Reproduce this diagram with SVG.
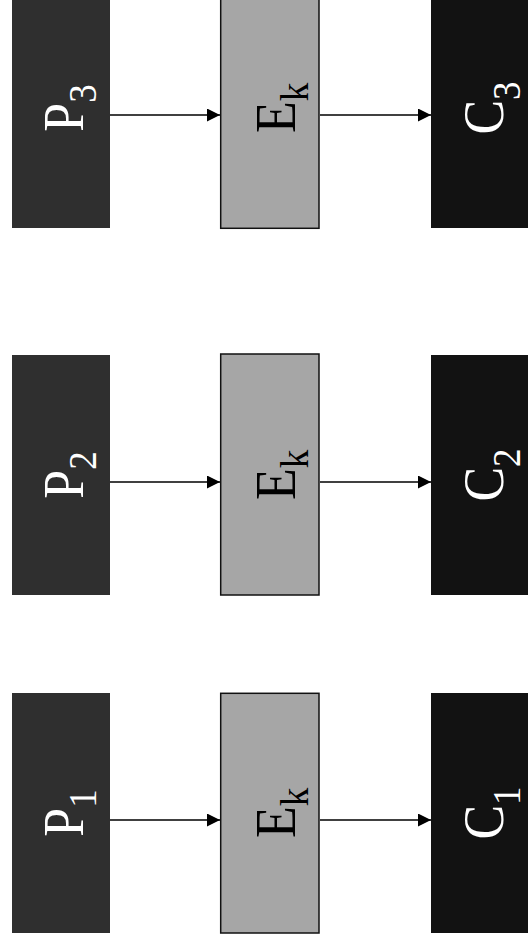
<svg xmlns="http://www.w3.org/2000/svg" width="528" height="947" viewBox="0 0 528 947">
  <style>
    .p { fill: #2f2f2f; }
    .c { fill: #121212; }
    .e { fill: #a6a6a6; stroke: #111111; stroke-width: 1.5; }
    .lbl { font-family: "Liberation Serif", "Times New Roman", serif; font-size: 52px; text-anchor: middle; }
    .w { fill: #ffffff; }
    .b { fill: #000000; }
    .sub { font-size: 37px; }
    .conn { stroke: #000000; stroke-width: 1.6; fill: none; marker-end: url(#arr); }
  </style>
  <defs>
    <marker id="arr" viewBox="0 0 13 13" refX="13" refY="6.5" markerWidth="13" markerHeight="13" markerUnits="userSpaceOnUse" orient="auto">
      <path d="M0,0 L13,6.5 L0,13 Z" fill="#000000"/>
    </marker>
  </defs>

  <g id="P3"><rect class="p" x="12" y="-12" width="98" height="240"/>
    <text class="lbl w" transform="translate(83,108) rotate(-90) scale(1,1.1)">P<tspan class="sub" dy="12">3</tspan></text></g>
  <g id="E3"><rect class="e" x="220.7" y="-12" width="98.3" height="240.3"/>
    <text class="lbl b" transform="translate(295,108) rotate(-90) scale(1,1.1)">E<tspan class="sub" dy="12">k</tspan></text></g>
  <g id="C3"><rect class="c" x="431" y="-12" width="97" height="240"/>
    <text class="lbl w" transform="translate(502.5,108) rotate(-90) scale(1,1.1)">C<tspan class="sub" dy="15.5">3</tspan></text></g>

  <g id="P2"><rect class="p" x="12" y="355" width="98" height="240"/>
    <text class="lbl w" transform="translate(83,475) rotate(-90) scale(1,1.1)">P<tspan class="sub" dy="12">2</tspan></text></g>
  <g id="E2"><rect class="e" x="220.7" y="354" width="98.3" height="241"/>
    <text class="lbl b" transform="translate(295,475) rotate(-90) scale(1,1.1)">E<tspan class="sub" dy="12">k</tspan></text></g>
  <g id="C2"><rect class="c" x="431" y="355" width="97" height="240"/>
    <text class="lbl w" transform="translate(502.5,475) rotate(-90) scale(1,1.1)">C<tspan class="sub" dy="15.5">2</tspan></text></g>

  <g id="P1"><rect class="p" x="12" y="693" width="98" height="240"/>
    <text class="lbl w" transform="translate(83,813) rotate(-90) scale(1,1.1)">P<tspan class="sub" dy="12">1</tspan></text></g>
  <g id="E1"><rect class="e" x="220.7" y="693.3" width="98.3" height="239.7"/>
    <text class="lbl b" transform="translate(295,813) rotate(-90) scale(1,1.1)">E<tspan class="sub" dy="12">k</tspan></text></g>
  <g id="C1"><rect class="c" x="431" y="693" width="97" height="240"/>
    <text class="lbl w" transform="translate(502.5,813) rotate(-90) scale(1,1.1)">C<tspan class="sub" dy="15.5">1</tspan></text></g>

  <g id="connectors">
    <line class="conn" x1="110" y1="115" x2="220" y2="115"/>
    <line class="conn" x1="320" y1="115" x2="431" y2="115"/>
    <line class="conn" x1="110" y1="482" x2="220" y2="482"/>
    <line class="conn" x1="320" y1="482" x2="431" y2="482"/>
    <line class="conn" x1="110" y1="820" x2="220" y2="820"/>
    <line class="conn" x1="320" y1="820" x2="431" y2="820"/>
  </g>
</svg>
